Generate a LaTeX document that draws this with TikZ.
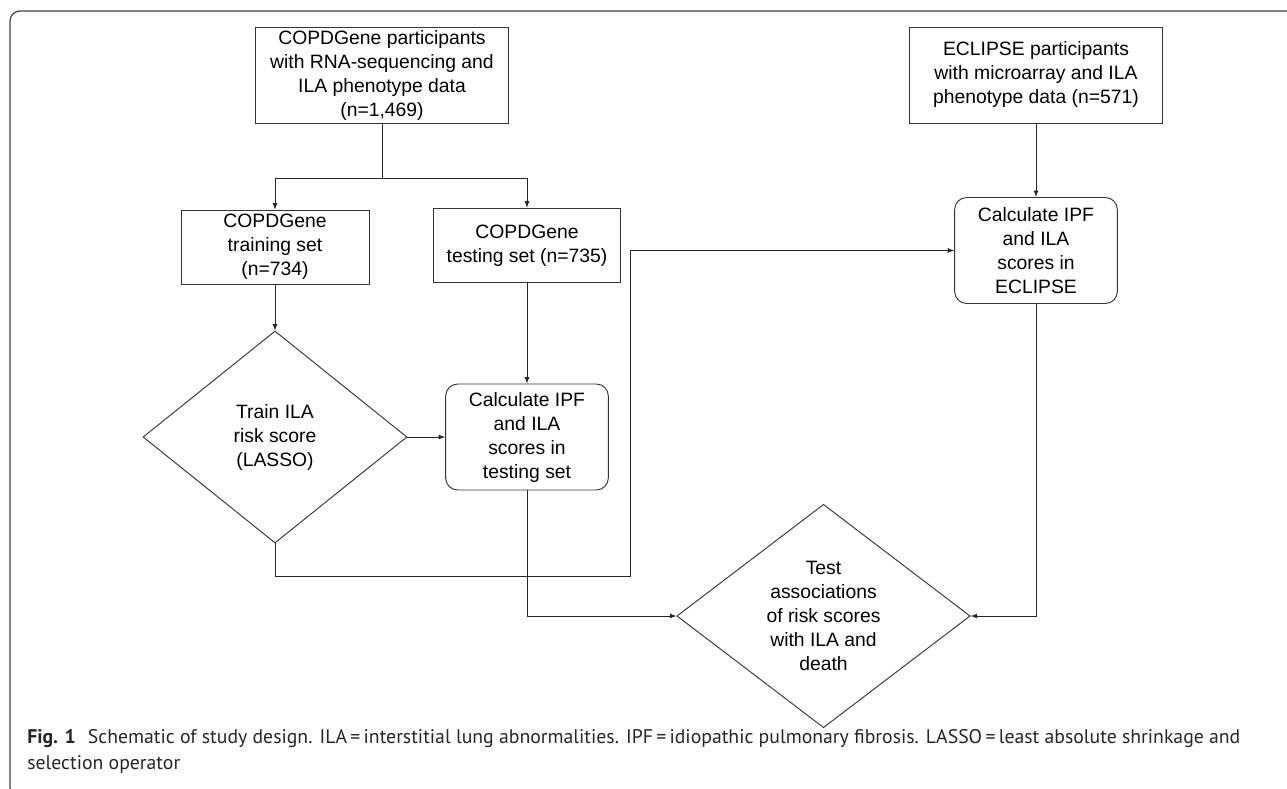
\documentclass[tikz,border=0pt]{standalone}
\usepackage{fontspec}
\setmainfont{Liberation Sans}
\newfontfamily\capfont{PT Sans}
\usetikzlibrary{arrows,calc,shapes}
\tikzset{>=latex}
\tikzstyle{setbox}=[rectangle,draw=black!80,line width=0.7pt,align=center,inner sep=0pt,font=\fontsize{14.5}{18}\selectfont]
\tikzstyle{calcbox}=[setbox,rounded corners=9pt,minimum width=122pt,minimum height=79.5pt]
\tikzstyle{decision}=[diamond,draw=black!80,line width=0.7pt,align=center,inner sep=0pt,font=\fontsize{14.5}{18}\selectfont]
\tikzstyle{link}=[->,draw=black!85,line width=0.7pt]
\tikzstyle{captext}=[anchor=base west,inner sep=0pt,font=\capfont\fontsize{14.8}{19.5}\selectfont,text=black!85]

\begin{document}
\begin{tikzpicture}[x=0.75pt,y=-0.75pt]
	\def \bigw {189.75pt}
	\def \bigh {72pt}

	\useasboundingbox (0,0) rectangle (1287,788);
	\draw[black!75,line width=0.9pt,rounded corners=7.5pt] (10,11) rectangle (1300,797);

	\node[setbox,minimum width=\bigw,minimum height=\bigh] (copd) at (382,75) {COPDGene participants\\with RNA-sequencing and\\ILA phenotype data\\(n=1,469)};
	\node[setbox,minimum width=141pt,minimum height=55.5pt] (train) at (275,247) {COPDGene\\training set\\(n=734)};
	\node[setbox,minimum width=140pt,minimum height=56pt] (test) at (527,245.5) {COPDGene\\testing set (n=735)};
	\node[decision,minimum width=198pt,minimum height=159pt] (lasso) at (275,437) {Train ILA\\risk score\\(LASSO)};
	\node[calcbox] (calctest) at (527,437) {Calculate IPF\\and ILA\\scores in\\testing set};

	\node[setbox,minimum width=\bigw,minimum height=\bigh] (eclipse) at (1036,75) {ECLIPSE participants\\with microarray and ILA\\phenotype data (n=571)};
	\node[calcbox] (calcecl) at (1036,250.5) {Calculate IPF\\and ILA\\scores in\\ECLIPSE};
	\node[decision,minimum width=220pt,minimum height=160.5pt] (assoc) at (823.5,616) {Test\\associations\\of risk scores\\with ILA and\\death};

	\coordinate (split) at (382,178);
	\coordinate (jog) at (630,576);

	\draw[link,-] (copd.south) -- (split);
	\draw[link] (split) -| (train.north);
	\draw[link] (split) -| (test.north);
	\draw[link] (train.south) -- (lasso.north);
	\draw[link] (test.south) -- (calctest.north);
	\draw[link] (lasso.east) -- (calctest.west);
	\draw[link] (lasso.south) |- (jog) |- (calcecl.west);
	\draw[link] (eclipse.south) -- (calcecl.north);
	\draw[link] (calctest.south) |- (assoc.west);
	\draw[link] (calcecl.south) |- (assoc.east);

	\node[captext] (cap1) at (27,743) {\textbf{Fig. 1}\hspace{9pt}Schematic of study design. ILA\,=\,interstitial lung abnormalities. IPF\,=\,idiopathic pulmonary fibrosis. LASSO\,=\,least absolute shrinkage and};
	\node[captext] (cap2) at (27,769) {selection operator};
\end{tikzpicture}
\end{document}
